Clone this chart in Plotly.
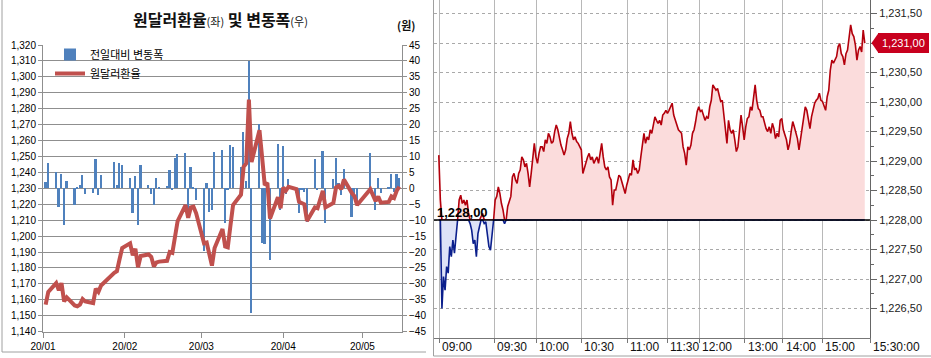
import numpy as np
import pandas as pd
import plotly.graph_objects as go

# ---------------- left panel data (daily) ----------------
HOLIDAYS = ['2020-01-01', '2020-01-24', '2020-01-27', '2020-04-15',
            '2020-04-30', '2020-05-01', '2020-05-05']
DATES = pd.bdate_range('2020-01-02', '2020-05-15', freq='C', holidays=HOLIDAYS)

RATE = [
    1157, 1165, 1170.5, 1166, 1170.5, 1159, 1161.5, 1156.5, 1156, 1157,
    1160.5, 1159, 1158, 1167, 1165, 1169, 1177, 1178, 1185.5, 1192.5,
    1195.5, 1188, 1192, 1180.5, 1187.5, 1188.5, 1187, 1181, 1183.5, 1184,
    1184.5, 1190, 1189.5, 1199, 1209.5, 1219.5, 1211.5, 1218, 1218.5, 1214.5,
    1195.5, 1196, 1188.5, 1181.5, 1192.5, 1204.5, 1193.5, 1193, 1206.5, 1219.5,
    1226, 1243.5, 1245.7, 1285.7, 1246.5, 1266.5, 1249.5, 1232, 1233.5, 1211,
    1224.5, 1217.5,
    1230.5, 1228.5, 1231, 1229.5, 1221.5, 1221, 1220, 1209.5, 1218, 1217.5,
    1228.5, 1218, 1220.8, 1230.5, 1231.5, 1229.5, 1235.5, 1227, 1225, 1219.5,
    1229.5, 1222, 1224.8, 1221, 1221.5, 1225, 1224, 1228.5, 1231,
]
CHANGE = [
    2, 8, 5, -5.8, 4.5, -11.5, 2.3, -5.2, 0.5, 1.2,
    4.2, -1.8, -1.4, 9.2, -2, 4.2, 8.2, 1.0, 8, 7.2,
    3.4, -7.6, 3.9, -11.5, 7.2, 1.0, -1.8, -5.2, 3.4, 0.5,
    0.8, 5.7, -0.3, 9.4, 10.7, 11, -7.8, 6.6, 0.4, -3.7,
    -19.6, 1.6, -7.3, -6.8, 11.3, 12, -11, -0.5, 13.6, 13.1,
    6.8, 17.6, 2.2, 40, -39.2, 20.1, -17.1, -17.5, 2, -22.5,
    13.9, -6.8,
    13.3, -1.8, 2.8, -1.5, -7.8, -0.6, -1.1, -10.5, 9.2, -0.5,
    11.7, -10.8, 2.8, 9.4, 1.6, -2.1, 6, -9.1, -2, -5.5,
    11, -6.8, 3.1, -1.4, 0.5, 4.4, -1, 4.4, 3.1,
]
MONTH_TICKS = ['2020-01-01', '2020-02-01', '2020-03-01', '2020-04-01', '2020-05-01']
MONTH_LABELS = ['20/01', '20/02', '20/03', '20/04', '20/05']
RATE_TICKS = list(range(1140, 1321, 10))
CHANGE_TICKS = list(range(-45, 46, 5))

# ---------------- right panel data (intraday) ----------------
PREV_CLOSE = 1228.00
INTRA = [
    1229.10, 1228.34, 1226.50, 1227.04, 1226.81, 1227.21, 1227.10, 1227.55, 1227.38, 1227.66,
    1227.44, 1227.77, 1228.00, 1228.34, 1228.42, 1228.28, 1228.34, 1228.25, 1228.34, 1228.11,
    1227.94, 1227.83, 1227.60, 1227.66, 1227.38, 1227.77, 1227.89, 1228.06, 1228.11, 1227.94,
    1227.97, 1227.77, 1227.55, 1227.49, 1227.77, 1228.00, 1228.34, 1228.40, 1228.56, 1228.45,
    1228.28, 1228.17, 1227.94, 1228.00, 1228.23, 1228.34, 1228.40, 1228.73, 1228.79, 1228.68,
    1228.62, 1228.79, 1228.85, 1229.07, 1229.02, 1228.90, 1228.96, 1228.79, 1228.56, 1228.79,
    1229.02, 1229.30, 1229.07, 1228.96, 1229.13, 1229.24, 1229.24, 1229.16, 1229.36, 1229.30,
    1229.47, 1229.41, 1229.30, 1229.33, 1229.50, 1229.61, 1229.53, 1229.36, 1229.27, 1229.19,
    1229.10, 1229.19, 1229.38, 1229.47, 1229.67, 1229.47, 1229.36, 1229.41, 1229.33, 1229.30,
    1229.24, 1229.19,
    1228.79, 1228.90, 1228.96, 1229.07, 1229.13, 1229.02, 1229.07, 1228.96, 1229.02, 1229.07,
    1228.96, 1229.13, 1229.30, 1229.07, 1228.90, 1228.85, 1228.90, 1228.73, 1228.68, 1228.25,
    1228.51, 1228.51, 1228.62, 1228.76, 1228.73, 1228.62, 1228.51, 1228.45, 1228.59, 1228.68,
    1228.79, 1228.76, 1229.02, 1228.85, 1228.88, 1228.79, 1228.85, 1229.07, 1229.24, 1229.47,
    1229.30, 1229.41, 1229.36, 1229.53, 1229.47, 1229.64, 1229.75, 1229.69, 1229.64, 1229.69,
    1229.61, 1229.78, 1229.81, 1229.86, 1229.81, 1229.86, 1229.92, 1229.98, 1229.78, 1229.69,
    1229.61, 1229.53, 1229.50, 1229.47, 1229.24, 1229.13, 1228.93, 1229.24, 1229.19, 1229.27,
    1229.47, 1229.53, 1229.67, 1229.84, 1229.92, 1229.84, 1229.86, 1229.75, 1229.69, 1229.75,
    1229.72, 1229.92, 1230.03, 1230.29, 1230.23, 1230.20, 1230.23, 1230.09, 1230.01, 1230.03,
    1229.81, 1229.58, 1229.30, 1229.69,
    1229.53, 1229.47, 1229.53, 1229.36, 1229.16, 1229.24, 1229.50, 1229.78, 1229.58, 1229.36,
    1229.58, 1229.72, 1229.75, 1229.92, 1229.86, 1230.09, 1230.29, 1230.03, 1229.89, 1229.86,
    1229.75, 1229.75, 1229.64, 1229.55, 1229.50, 1229.58, 1229.47, 1229.64, 1229.55, 1229.38,
    1229.47, 1229.41, 1229.69, 1229.72, 1229.53, 1229.44, 1229.36, 1229.19, 1229.30, 1229.50,
    1229.67, 1229.58, 1229.47, 1229.38, 1229.19, 1229.36, 1229.53, 1229.72, 1229.92, 1229.86,
    1229.69, 1229.55, 1229.75, 1229.89, 1229.98, 1230.03, 1230.06, 1230.15, 1230.03, 1230.01,
    1229.92, 1229.86, 1230.09, 1230.20, 1230.54, 1230.71, 1230.66, 1230.71, 1230.77, 1230.94,
    1230.99, 1230.82, 1230.77, 1230.63, 1230.82, 1230.88, 1231.11, 1231.31, 1231.16, 1231.11,
    1230.97, 1230.71, 1230.88, 1230.94, 1230.85, 1231.22, 1231.00,
]
TIME_LABELS = ['09:00', '09:30', '10:00', '10:30', '11:00', '11:30', '12:00',
               '13:00', '14:00', '15:00', '15:30:00']
TIME_POS = [0.012, 0.138, 0.235, 0.338, 0.443, 0.535, 0.608, 0.713, 0.800, 0.891, 1.0]
PRICE_TICKS = [1226.5, 1227.0, 1227.5, 1228.0, 1228.5, 1229.0, 1229.5,
               1230.0, 1230.5, 1231.0, 1231.5]


def krw_fmt(v):
    return f"{v:,.2f}".replace('.', ',')


W, H = 931, 358
def px(x):
    return x / W
def py(y):
    return 1 - y / H

KR = "Noto Sans CJK KR"
NUM = "Liberation Sans"

fig = go.Figure()

# ---- left panel ----
fig.add_trace(go.Bar(
    x=DATES, y=CHANGE, name='전일대비 변동폭', marker_color='#4F81BD',
    marker_line_width=0, width=0.65 * 86400000, xaxis='x', yaxis='y',
    legendrank=1,
))
fig.add_trace(go.Scatter(
    x=DATES, y=RATE, name='원달러환율', mode='lines',
    line=dict(color='#C0504D', width=4), xaxis='x', yaxis='y2',
    legendrank=2,
))

# ---- right panel ----
n = len(INTRA)
xi = np.linspace(0.011, 0.988, n)
arr = np.array(INTRA)
base = np.full(n, PREV_CLOSE)
up = np.maximum(arr, PREV_CLOSE)
dn = np.minimum(arr, PREV_CLOSE)

fig.add_trace(go.Scatter(x=xi, y=base, mode='lines', line=dict(width=0),
                         showlegend=False, hoverinfo='skip', xaxis='x2', yaxis='y3'))
fig.add_trace(go.Scatter(x=xi, y=up, mode='lines', fill='tonexty',
                         fillcolor='#fbdcdc', line=dict(color='#b3000c', width=1.6),
                         showlegend=False, xaxis='x2', yaxis='y3'))
fig.add_trace(go.Scatter(x=xi, y=base, mode='lines', line=dict(width=0),
                         showlegend=False, hoverinfo='skip', xaxis='x2', yaxis='y3'))
fig.add_trace(go.Scatter(x=xi, y=dn, mode='lines', fill='tonexty',
                         fillcolor='#dde2f7', line=dict(color='#0b1f8c', width=1.6),
                         showlegend=False, xaxis='x2', yaxis='y3'))

grid_gray = '#8f8f8f'
fig.update_layout(
    width=W, height=H, autosize=False,
    margin=dict(l=0, r=0, t=0, b=0, autoexpand=False),
    paper_bgcolor='white', plot_bgcolor='rgba(0,0,0,0)',
    bargap=0,
    xaxis=dict(
        domain=[px(43), px(402)], type='date',
        range=['2020-01-01', '2020-05-16'],
        tickvals=MONTH_TICKS, ticktext=MONTH_LABELS,
        ticks='outside', ticklen=5, tickcolor=grid_gray,
        showline=True, linecolor=grid_gray, showgrid=False, zeroline=False,
        tickfont=dict(family=NUM, size=10, color='#000'),
        anchor='y', automargin=False,
    ),
    yaxis=dict(
        domain=[py(331.7), py(45)], range=[-45, 45], side='right',
        tickvals=CHANGE_TICKS, ticks='outside', ticklen=4, tickcolor=grid_gray,
        showline=True, linecolor=grid_gray, showgrid=True, gridcolor=grid_gray,
        zeroline=False, tickfont=dict(family=NUM, size=10, color='#000'),
        anchor='x', automargin=False,
    ),
    yaxis2=dict(
        range=[1140, 1320], overlaying='y', side='left',
        tickvals=RATE_TICKS, tickformat=',d', ticks='outside', ticklen=4,
        tickcolor=grid_gray, showline=True, linecolor=grid_gray,
        showgrid=False, zeroline=False,
        tickfont=dict(family=NUM, size=10, color='#000'), anchor='x',
        automargin=False,
    ),
    xaxis2=dict(
        domain=[px(434), px(870)], range=[0, 1],
        tickvals=TIME_POS, showticklabels=False, ticks='outside', ticklen=4,
        tickcolor='#777', showline=True, linecolor='#777', showgrid=True,
        gridcolor='#b8b8b8', gridwidth=1, zeroline=False, anchor='y3',
        automargin=False,
    ),
    yaxis3=dict(
        domain=[py(338), 1.0], range=[1226.0, 1231.73], side='right',
        tickvals=PRICE_TICKS,
        ticktext=['' if v == INTRA[-1] else krw_fmt(v) for v in PRICE_TICKS],
        ticks='outside', ticklen=6, tickcolor='#666',
        minor=dict(tickvals=[v + 0.25 for v in PRICE_TICKS], ticks='outside',
                   ticklen=3, tickcolor='#666', showgrid=False),
        showline=True, linecolor='#666', showgrid=True, gridcolor='#a9a9a9',
        griddash='dot', zeroline=False,
        tickfont=dict(family=NUM, size=11, color='#222'), anchor='x2',
        automargin=False,
    ),
    legend=dict(
        x=px(50), y=py(40), xanchor='left', yanchor='top',
        bgcolor='rgba(0,0,0,0)', font=dict(family=KR, size=11, color='#000'),
        tracegroupgap=0, itemwidth=30, traceorder='normal',
    ),
    showlegend=True,
)

annotations = [
    dict(text="<b>원달러환율</b><span style='font-size:11px'>(좌)</span><b> 및 변동폭</b><span style='font-size:11px'>(우)</span>",
         x=px(220), y=py(19), xref='paper', yref='paper', showarrow=False,
         xanchor='center', yanchor='middle',
         font=dict(family=KR, size=16, color='#111'), ),
    dict(text="<b>(원)</b>", x=px(406), y=py(25), xref='paper', yref='paper',
         showarrow=False, xanchor='center', yanchor='middle',
         font=dict(family=KR, size=11, color='#111')),
    dict(text="<b>" + krw_fmt(PREV_CLOSE) + "</b>", x=xi[0], y=PREV_CLOSE,
         xref='x2', yref='y3', showarrow=False, xanchor='left', yanchor='bottom',
         yshift=-2, xshift=-4, font=dict(family=NUM, size=13, color='#000')),
    dict(text=krw_fmt(INTRA[-1]), x=px(903.5), y=INTRA[-1], xref='paper', yref='y3',
         showarrow=False, xanchor='center', yanchor='middle',
         font=dict(family=NUM, size=11, color='white')),
]
for lab, pos in zip(TIME_LABELS, TIME_POS):
    annotations.append(dict(text=lab, x=pos, y=py(347), xref='x2', yref='paper',
                            showarrow=False, xanchor='left', yanchor='middle', xshift=1,
                            font=dict(family=NUM, size=12, color='#111')))
fig.update_layout(annotations=annotations)

box_h = 10 / 59 * 1.0
shapes = [
    # red current-price tag
    dict(type='rect', xref='paper', yref='y3', x0=px(878), x1=px(929),
         y0=INTRA[-1] - box_h, y1=INTRA[-1] + box_h, fillcolor='#c8001e',
         line=dict(width=0), layer='above'),
    dict(type='path', xref='paper', yref='y3',
         path=f"M {px(871.5)} {INTRA[-1]} L {px(878.5)} {INTRA[-1] + box_h} L {px(878.5)} {INTRA[-1] - box_h} Z",
         fillcolor='#c8001e', line=dict(width=0), layer='above'),
    # previous close line
    dict(type='line', xref='paper', yref='y3', x0=px(434), x1=px(870),
         y0=PREV_CLOSE, y1=PREV_CLOSE, line=dict(color='#000', width=1.3), layer='above'),
    # frames
    dict(type='line', xref='paper', yref='paper', x0=px(2), x1=px(2), y0=py(352), y1=1,
         line=dict(color='#a0a0a0', width=1)),
    dict(type='line', xref='paper', yref='paper', x0=px(2), x1=px(426), y0=py(352), y1=py(352),
         line=dict(color='#a0a0a0', width=1)),
    dict(type='line', xref='paper', yref='paper', x0=px(433.5), x1=px(433.5), y0=py(356), y1=1,
         line=dict(color='#a0a0a0', width=1)),
    dict(type='line', xref='paper', yref='paper', x0=px(433.5), x1=1, y0=py(356), y1=py(356),
         line=dict(color='#a0a0a0', width=1)),
]
fig.update_layout(shapes=shapes)

fig.write_html(
    "out.html",
    config={'displayModeBar': False},
    post_script="document.body.style.margin='0px';document.body.style.overflow='hidden';",
)
